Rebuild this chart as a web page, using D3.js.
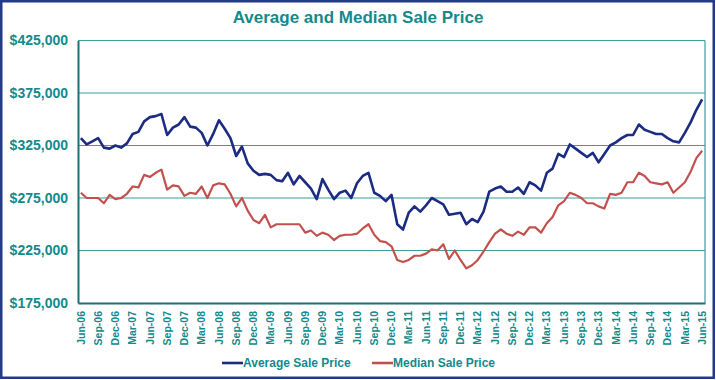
<!DOCTYPE html>
<html lang="en">
<head>
    <meta charset="UTF-8">
    <title>Average and Median Sale Price</title>
    <script src="https://d3js.org/d3.v7.min.js"></script>
    <style>
        body {
            margin: 0;
            padding: 0;
            background-color: #fff;
            font-family: "Liberation Sans", Arial, sans-serif;
        }
        .label {
            fill: #138a8c;
            font-weight: bold;
        }
    </style>
</head>
<body>
<div id="chart"></div>
<script>
    // monthly categories Jun-06 .. Jun-15
    const firstMonth = new Date(2006, 5, 1);
    const lastMonth = new Date(2015, 5, 1);

    const averagePrice = [
        332, 326, 329, 332, 323, 322, 325, 323, 327, 336, 338, 348,
        352, 353, 355, 335, 342, 345, 352, 343, 342, 337, 325, 336,
        349, 341, 332, 315, 324, 308, 301, 297, 298, 297, 292, 291,
        299, 288, 296, 290, 284, 274, 293, 283, 274, 280, 282, 275,
        289, 296, 299, 280, 277, 272, 278, 250, 245, 261, 267, 262,
        268, 275, 272, 269, 259, 260, 261, 250, 255, 252, 262, 281,
        284, 286, 281, 281, 285, 279, 290, 287, 282, 299, 303, 317,
        314, 326, 322, 318, 314, 318, 309, 317, 325, 328, 332, 335,
        335, 345, 340, 338, 336, 336, 332, 329, 328, 337, 347, 359,
        369
    ].map(v => v * 1000);

    const medianPrice = [
        280, 275, 275, 275, 270, 278, 274, 275, 279, 286, 285, 297,
        295, 299, 302, 283, 287, 286, 277, 280, 279, 286, 275, 287,
        289, 288, 279, 267, 275, 263, 254, 251, 259, 247, 250, 250,
        250, 250, 250, 242, 244, 239, 242, 240, 235, 239, 240, 240,
        241, 246, 250, 240, 234, 233, 229, 216, 214, 216, 220, 220,
        222, 226, 225, 231, 217, 225, 216, 208, 211, 216, 224, 233,
        241, 245, 241, 239, 243, 240, 247, 247, 242, 251, 257, 268,
        272, 280, 278, 275, 270, 270, 267, 265, 279, 278, 280, 290,
        290, 299, 296, 290, 289, 288, 290, 280, 285, 290, 300, 313,
        320
    ].map(v => v * 1000);

    const yTicks = [175000, 225000, 275000, 325000, 375000, 425000];
    const seriesNames = ["Average Sale Price", "Median Sale Price"];
    const seriesColors = ["#1c2c82", "#c4504e"];

    const W = 716, H = 380;
    const plot = {left: 78, right: 705, top: 40.5, bottom: 303};

    const fmtMonth = d3.timeFormat("%b-%y");
    const months = d3.timeMonths(firstMonth, d3.timeMonth.offset(lastMonth, 1)).map(fmtMonth);
    const tickLabels = months.filter((m, i) => i % 3 === 0);

    const svg = d3.select("#chart").append("svg")
        .attr("width", W)
        .attr("height", H);

    // outer frame
    svg.append("rect")
        .attr("x", 1.25).attr("y", 1.25)
        .attr("width", W - 3.5).attr("height", H - 3.5)
        .attr("fill", "#fff")
        .attr("stroke", "#23398c")
        .attr("stroke-width", 2.5);

    const x = d3.scaleBand()
        .domain(months)
        .range([plot.left, plot.right])
        .paddingInner(0)
        .paddingOuter(0);

    const y = d3.scaleLinear()
        .domain([175000, 425000])
        .range([plot.bottom, plot.top]);

    // gridlines
    svg.append("g")
        .selectAll("line")
        .data(yTicks.slice(1))
        .enter().append("line")
        .attr("x1", plot.left).attr("x2", plot.right)
        .attr("y1", d => y(d)).attr("y2", d => y(d))
        .attr("stroke", "#3d9c9e")
        .attr("stroke-width", 1.2);

    // right border of plot
    svg.append("line")
        .attr("x1", plot.right).attr("x2", plot.right)
        .attr("y1", plot.top).attr("y2", plot.bottom)
        .attr("stroke", "#3d9c9e")
        .attr("stroke-width", 1.2);

    // y axis
    const yAxis = svg.append("g")
        .attr("transform", `translate(${plot.left},0)`)
        .call(d3.axisLeft(y).tickValues(yTicks).tickSize(0).tickPadding(10).tickFormat(d3.format("$,.0f")));
    yAxis.select(".domain").attr("stroke", "#1d6f78").attr("stroke-width", 2);
    yAxis.selectAll("text")
        .attr("class", "label")
        .style("font-size", "14px")
        .style("font-family", "'Liberation Sans', Arial, sans-serif");

    // x axis
    const xAxis = svg.append("g")
        .attr("transform", `translate(0,${plot.bottom})`)
        .call(d3.axisBottom(x).tickValues(tickLabels).tickSize(0).tickPadding(0));
    xAxis.select(".domain").attr("stroke", "#1d6f78").attr("stroke-width", 2.2);
    xAxis.selectAll("text")
        .attr("class", "label")
        .style("font-size", "10.5px")
        .style("font-family", "'Liberation Sans', Arial, sans-serif")
        .attr("text-anchor", "end")
        .attr("dy", "0.35em")
        .attr("transform", "translate(0,8) rotate(-90)")
        .attr("x", 0)
        .attr("y", 0);

    const line = d3.line()
        .x((d, i) => x(months[i]) + x.bandwidth() / 2)
        .y(d => y(d));

    [averagePrice, medianPrice].forEach((s, k) => {
        svg.append("path")
            .datum(s)
            .attr("fill", "none")
            .attr("stroke", seriesColors[k])
            .attr("stroke-width", k === 0 ? 2.6 : 2.2)
            .attr("stroke-linejoin", "round")
            .attr("d", line);
    });

    // title
    svg.append("text")
        .attr("class", "label")
        .attr("x", 358)
        .attr("y", 23)
        .attr("text-anchor", "middle")
        .style("font-size", "17px")
        .text("Average and Median Sale Price");

    // legend
    const legendX = [222, 372];
    const legend = svg.append("g").selectAll("g")
        .data(seriesNames)
        .enter().append("g")
        .attr("transform", (d, i) => `translate(${legendX[i]},363)`);
    legend.append("line")
        .attr("x1", 0).attr("x2", 21)
        .attr("stroke", (d, i) => seriesColors[i])
        .attr("stroke-width", 2.6);
    legend.append("text")
        .attr("class", "label")
        .attr("x", 21)
        .attr("dy", "0.35em")
        .style("font-size", "12px")
        .text(d => d);
</script>
</body>
</html>
